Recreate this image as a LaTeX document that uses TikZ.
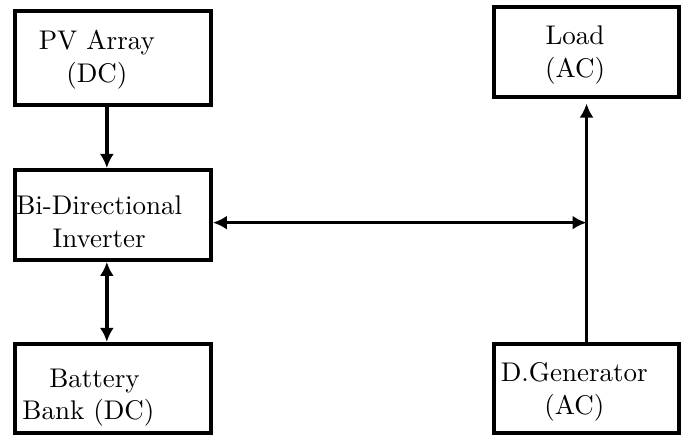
\documentclass[tikz,border=0pt]{standalone}
\usepackage{tikz}
\usetikzlibrary{arrows.meta, calc}
\tikzset{
    sysbox/.style={draw, line width=1.5pt, rectangle, minimum width=2.55cm, minimum height=1.17cm},
    boxtext/.style={align=center, inner sep=0pt},
    flow/.style={line width=1.3pt, -{Latex[length=5.2pt,width=5.2pt]}},
    bothflow/.style={line width=1.3pt, {Latex[length=5.2pt,width=5.2pt]}-{Latex[length=5.2pt,width=5.2pt]}}
}

\begin{document}
\begin{tikzpicture}
            % Hybrid PV / generator system layout
            \useasboundingbox (0,0) rectangle (8.919,5.716);
            \node[sysbox, minimum height=1.22cm] (pv) at (1.471,4.961) {};
            \node[sysbox] (inv) at (1.471,2.917) {};
            \node[sysbox, minimum height=1.16cm] (bat) at (1.471,0.658) {};
            \node[sysbox, minimum width=2.41cm] (load) at (7.637,5.039) {};
            \node[sysbox, minimum width=2.41cm, minimum height=1.16cm] (dgen) at (7.637,0.658) {};

            \node[boxtext] (pvtext) at ([xshift=-0.21cm,yshift=-0.02cm]pv.center) {PV Array\\(DC)};
            \node[boxtext] (invtext) at ([xshift=-0.18cm,yshift=-0.09cm]inv.center) {Bi-Directional\\Inverter};
            \node[boxtext, align=left] (battext) at ([xshift=-0.32cm,yshift=-0.12cm]bat.center) {\hspace*{0.35cm}Battery\\Bank (DC)};
            \node[boxtext] (loadtext) at ([xshift=-0.15cm,yshift=-0.04cm]load.center) {Load\\(AC)};
            \node[boxtext] (dgentext) at ([xshift=-0.16cm,yshift=-0.045cm]dgen.center) {D.Generator\\(AC)};

            \path ([yshift=-0.1cm]inv.east) coordinate (invport);
            \coordinate (busjn) at (invport -| dgen.north);

            \draw[flow] ([xshift=-0.08cm]pv.south) -- ([xshift=-0.08cm]inv.north);
            \draw[bothflow] ([xshift=-0.08cm]inv.south) -- ([xshift=-0.08cm]bat.north);
            \draw[bothflow] (invport) -- (busjn);
            \draw[flow, shorten >=0.06cm] (dgen.north) -- (load.south);
        \end{tikzpicture}
\end{document}
